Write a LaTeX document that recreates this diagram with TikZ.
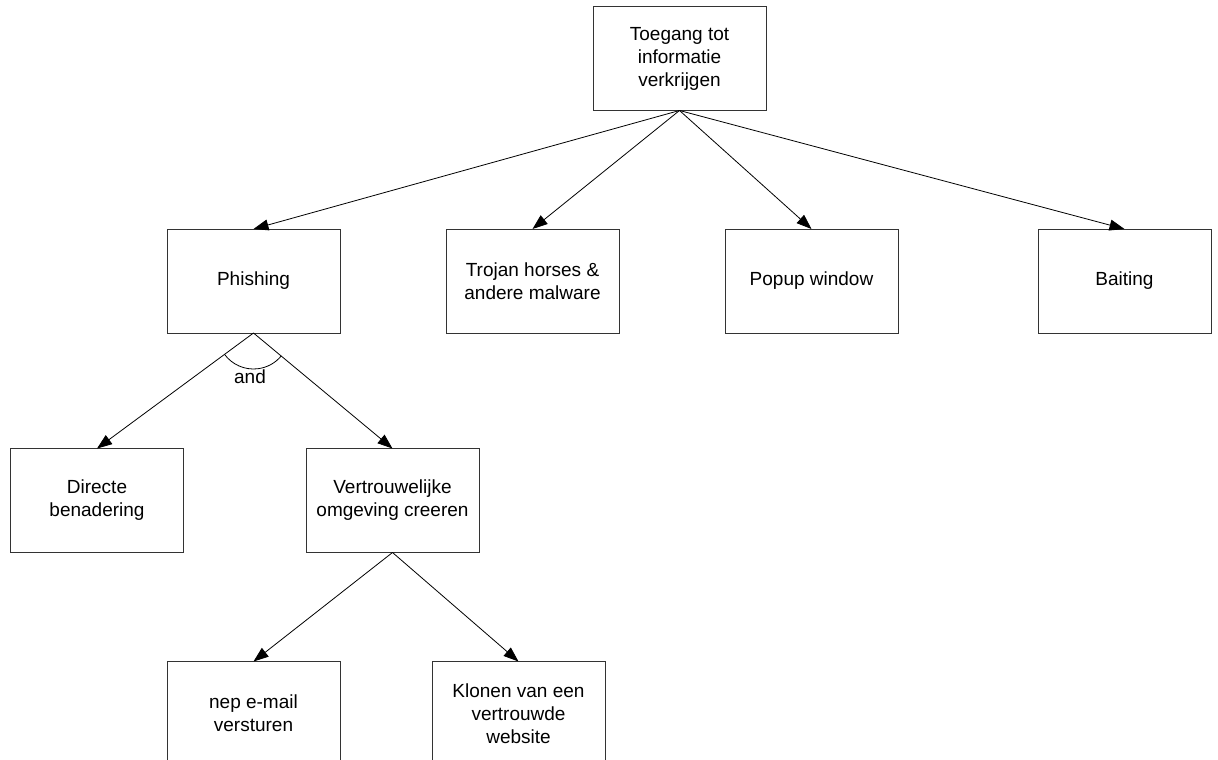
\documentclass[tikz,border=0pt]{standalone}
\usepackage{fontspec}
\setmainfont{Liberation Sans}
\usetikzlibrary{arrows.meta}
\begin{document}
\begin{tikzpicture}[x=1pt,y=1pt,
  box/.style={draw=black!80, line width=1pt, rectangle, minimum width=173pt, minimum height=104pt,
    inner sep=0pt, outer sep=0pt, align=center, font=\fontsize{19}{23}\selectfont},
  conn/.style={line width=0.8pt, -{Triangle[length=15pt,width=11pt]}},
  lbl/.style={font=\fontsize{19}{23}\selectfont, inner sep=0pt}]
\useasboundingbox (0,0) rectangle (1218,-760);
\clip (0,0) rectangle (1218,-760);
\fill[white] (0,0) rectangle (1218,-760);
\node[box] (top) at (679.5,-58.5) {Toegang tot\\informatie\\verkrijgen};
\node[box] (phi) at (253.5,-281) {Phishing};
\node[box] (troj) at (532.5,-281) {Trojan horses \&\\andere malware};
\node[box] (pop) at (811.5,-281) {Popup window};
\node[box] (bait) at (1124.5,-281) {Baiting};
\node[box] (dir) at (97,-500.5) {Directe\\benadering};
\node[box] (ver) at (392.5,-500.5) {Vertrouwelijke\\omgeving creeren};
\node[box] (nep) at (253.5,-713.5) {nep e-mail\\versturen};
\node[box] (klo) at (518.5,-713.5) {Klonen van een\\vertrouwde\\website};
\draw[conn] (top.south) -- (phi.north);
\draw[conn] (top.south) -- (troj.north);
\draw[conn] (top.south) -- (pop.north);
\draw[conn] (top.south) -- (bait.north);
\draw[conn] (phi.south) -- (dir.north);
\draw[conn] (phi.south) -- (ver.north);
\draw[conn] (ver.south) -- (nep.north);
\draw[conn] (ver.south) -- (klo.north);
\draw[line width=0.8pt] ([shift={(216.4:36)}]phi.south) arc[start angle=216.4, end angle=320.6, radius=36];
\node[lbl] (and) at (250,-377) {and};
\end{tikzpicture}
\end{document}
